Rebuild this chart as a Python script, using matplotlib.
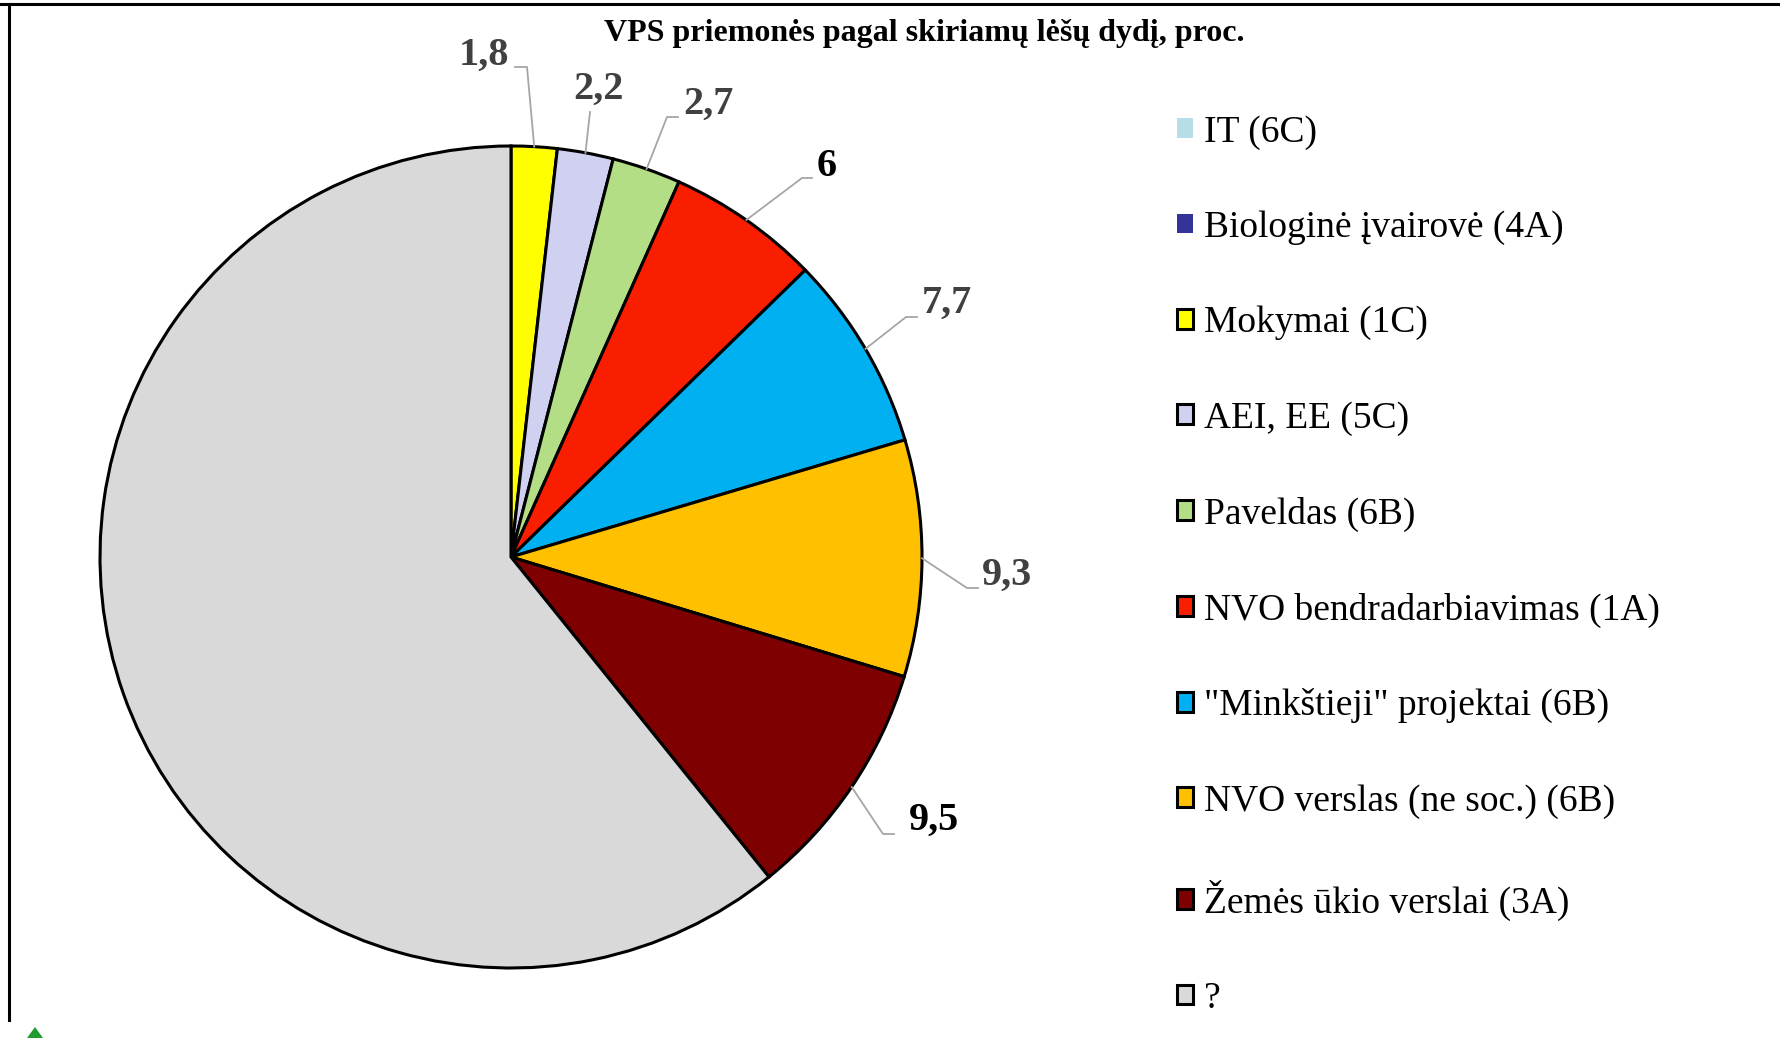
import matplotlib
matplotlib.use("Agg")
import matplotlib.pyplot as plt
import numpy as np
from matplotlib.patches import Patch, Polygon
from matplotlib.lines import Line2D

plt.rcParams['font.family'] = ['Liberation Serif', 'DejaVu Serif']

# data
categories = ['IT (6C)', 'Biologinė įvairovė (4A)', 'Mokymai (1C)', 'AEI, EE (5C)',
              'Paveldas (6B)', 'NVO bendradarbiavimas (1A)', '"Minkštieji" projektai (6B)',
              'NVO verslas (ne soc.) (6B)', 'Žemės ūkio verslai (3A)', '?']
values = [0, 0, 1.8, 2.2, 2.7, 6, 7.7, 9.3, 9.5, 60.8]
labels = ['', '', '1,8', '2,2', '2,7', '6', '7,7', '9,3', '9,5', '']
colors = ['#b7dee8', '#333399', '#ffff00', '#d0d0f0', '#b3de86', '#fa1e00',
          '#00b0f0', '#ffc000', '#7f0000', '#d9d9d9']
label_colors = ['#404040', '#404040', '#404040', '#404040', '#404040', '#000000',
                '#404040', '#404040', '#000000', '#404040']

W, H = 1781, 1038
fig = plt.figure(figsize=(W / 100, H / 100), dpi=100)
ax = fig.add_axes([0, 0, 1, 1])

cx, cy, R = 511, 557, 411
# y axis is flipped (image coords), so start at 270 and go counterclock in data = clockwise on screen
wedges, _ = ax.pie(values, colors=colors, startangle=270, counterclock=True,
                   radius=R, center=(cx, cy),
                   wedgeprops=dict(edgecolor='black', linewidth=2.2))
ax.set_xlim(0, W)
ax.set_ylim(H, 0)
ax.set_aspect('auto')
ax.axis('off')

# label layout: text centre, elbow point, end of horizontal tick (image px)
label_layout = {
    2: ((484, 55), (527, 67), (515, 67)),
    3: ((599, 89), (590, 112), None),
    4: ((708, 104), (667, 117), (678, 117)),
    5: ((827, 166), (802, 178), (812, 178)),
    6: ((947, 303), (906, 317), (917, 317)),
    7: ((1007, 575), (967, 588), (978, 588)),
    8: ((934, 820), (883, 834), (894, 834)),
}
for i, (txt_xy, elbow, hend) in label_layout.items():
    w = wedges[i]
    mid = np.deg2rad((w.theta1 + w.theta2) / 2)
    ax_pt = (cx + R * np.cos(mid), cy + R * np.sin(mid))
    xs = [ax_pt[0], elbow[0]]
    ys = [ax_pt[1], elbow[1]]
    if hend is not None:
        xs.append(hend[0])
        ys.append(hend[1])
    ax.add_line(Line2D(xs, ys, color='#a6a6a6', lw=1.3, zorder=1))
    ax.text(txt_xy[0], txt_xy[1], labels[i], ha='center', va='center',
            fontsize=29, fontweight='bold', color=label_colors[i])

ax.text(924, 33, 'VPS priemonės pagal skiriamų lėšų dydį, proc.', ha='center', va='center',
        fontsize=23, fontweight='bold', color='black')

handles = []
for v, c in zip(values, colors):
    if v == 0:
        handles.append(Patch(facecolor=c, edgecolor='none'))
    else:
        handles.append(Patch(facecolor=c, edgecolor='black', linewidth=2.2))
ax.legend(handles, categories, loc='upper left', bbox_to_anchor=(1177, 115),
          bbox_transform=ax.transData, frameon=False, fontsize=27,
          handlelength=0.43, handleheight=0.43, handletextpad=0.3,
          labelspacing=1.62, borderpad=0, borderaxespad=0)

# frame edges of the screenshot
ax.add_line(Line2D([0, W], [4, 4], color='black', lw=2.2))
ax.add_line(Line2D([9, 9], [4, 1020], color='black', lw=2.2))
ax.add_patch(Polygon([(27, 1038), (35, 1027), (43, 1038)], closed=True,
                     facecolor='#1f9e2e', edgecolor='none'))

fig.savefig('out.png', dpi=100)
